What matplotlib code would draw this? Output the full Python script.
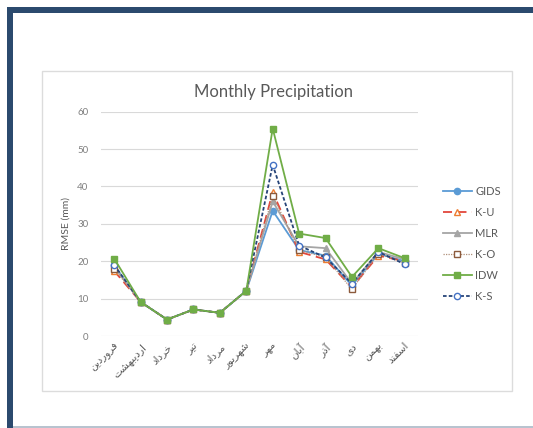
import matplotlib
matplotlib.use('Agg')
import matplotlib.pyplot as plt
from matplotlib.patches import Rectangle

plt.rcParams['font.family'] = ['Lato', 'DejaVu Sans']

# Data
months = ['فروردین', 'اردیبهشت', 'خرداد', 'تیر', 'مرداد', 'شهریور',
          'مهر', 'آبان', 'آذر', 'دی', 'بهمن', 'اسفند']
gids = [18.9, 9.1, 4.4, 7.1, 6.2, 12.1, 33.5, 23.0, 21.5, 13.5, 22.0, 20.0]
k_u = [17.4, 9.1, 4.4, 7.1, 6.2, 12.1, 38.5, 22.5, 20.5, 13.0, 21.5, 20.0]
mlr = [18.5, 9.1, 4.4, 7.1, 6.2, 12.1, 36.0, 24.0, 23.5, 14.0, 22.5, 20.5]
k_o = [18.0, 9.1, 4.4, 7.1, 6.2, 12.1, 37.5, 23.0, 21.0, 12.5, 22.0, 19.5]
idw = [20.7, 9.1, 4.4, 7.1, 6.2, 12.1, 55.5, 27.4, 26.2, 15.8, 23.5, 20.8]
k_s = [19.0, 9.1, 4.4, 7.1, 6.2, 12.1, 45.8, 24.2, 21.0, 14.0, 22.5, 19.2]
yticks = [0, 10, 20, 30, 40, 50, 60]

# matplotlib does no Arabic shaping, so pick contextual forms by hand
FORMS = {  # isolated, final, initial, medial
    'ا': ('\uFE8D', '\uFE8E', None, None),
    'آ': ('\uFE81', '\uFE82', None, None),
    'د': ('\uFEA9', '\uFEAA', None, None),
    'ذ': ('\uFEAB', '\uFEAC', None, None),
    'ر': ('\uFEAD', '\uFEAE', None, None),
    'و': ('\uFEED', '\uFEEE', None, None),
    'ب': ('\uFE8F', '\uFE90', '\uFE91', '\uFE92'),
    'ت': ('\uFE95', '\uFE96', '\uFE97', '\uFE98'),
    'خ': ('\uFEA5', '\uFEA6', '\uFEA7', '\uFEA8'),
    'س': ('\uFEB1', '\uFEB2', '\uFEB3', '\uFEB4'),
    'ش': ('\uFEB5', '\uFEB6', '\uFEB7', '\uFEB8'),
    'ف': ('\uFED1', '\uFED2', '\uFED3', '\uFED4'),
    'م': ('\uFEE1', '\uFEE2', '\uFEE3', '\uFEE4'),
    'ن': ('\uFEE5', '\uFEE6', '\uFEE7', '\uFEE8'),
    'ه': ('\uFEE9', '\uFEEA', '\uFEEB', '\uFEEC'),
    'ی': ('\uFBFC', '\uFBFD', '\uFBFE', '\uFBFF'),
}


def shape(word):
    out = []
    for i, c in enumerate(word):
        f = FORMS[c]
        prev = i > 0 and FORMS[word[i - 1]][2] is not None
        nxt = i < len(word) - 1 and f[2] is not None
        if prev and nxt:
            out.append(f[3])
        elif prev:
            out.append(f[1])
        elif nxt:
            out.append(f[2])
        else:
            out.append(f[0])
    return ''.join(reversed(out))


fig = plt.figure(figsize=(5.33, 4.28), dpi=100)
W, H = 533, 428


def px(x, y, w, h):
    return (x / W, 1 - (y + h) / H, w / W, h / H)


# outer frame
for r, c in [((7, 7, 526, 6), '#2b4a6e'), ((7, 7, 6, 421), '#2b4a6e'),
             ((13, 426, 520, 2), '#b8c3cf')]:
    x0, y0, w0, h0 = px(*r)
    fig.add_artist(Rectangle((x0, y0), w0, h0, transform=fig.transFigure,
                             facecolor=c, edgecolor='none'))
# chart box
x0, y0, w0, h0 = px(41.5, 71, 470, 320)
fig.add_artist(Rectangle((x0, y0), w0, h0, transform=fig.transFigure,
                         facecolor='none', edgecolor='#dcdcdc', lw=1))

ax = fig.add_axes(px(101, 111.7, 317, 224.3))
x = range(len(months))
ax.plot(x, gids, color='#5b9bd5', lw=1.3, marker='o', ms=4.5, label='GIDS')
ax.plot(x, k_u, color='#e2473b', lw=1.3, ls=(0, (5, 3)), marker='^', ms=5,
        mfc='white', mec='#ed7d31', label='K-U')
ax.plot(x, mlr, color='#a5a5a5', lw=1.3, marker='^', ms=4.5, label='MLR')
ax.plot(x, k_o, color='#b0907a', lw=0.9, ls=(0, (1, 1)), marker='s', ms=4.5,
        mfc='white', mec='#8c5a3c', label='K-O')
ax.plot(x, idw, color='#70ad47', lw=1.3, marker='s', ms=4.5, label='IDW',
        zorder=3)
ax.plot(x, k_s, color='#264478', lw=1.3, ls=(0, (2, 1.2)), marker='o', ms=4.5,
        mfc='white', mec='#4472c4', label='K-S', zorder=2.5)

ax.set_xlim(-0.5, len(months) - 0.5)
ax.set_ylim(0, 60)
ax.set_yticks(yticks)
ax.set_xticks(list(x))
ax.set_xticklabels([shape(m) for m in months], rotation=45, ha='right',
                   va='top', rotation_mode='anchor', fontsize=7.5,
                   color='#595959')
ax.tick_params(axis='y', length=0, pad=9, labelsize=7, labelcolor='#7f7f7f')
ax.tick_params(axis='x', length=0, pad=4)
ax.grid(axis='y', color='#d9d9d9', lw=0.8)
ax.set_axisbelow(True)
for s in ax.spines.values():
    s.set_visible(False)
ax.set_ylabel('RMSE (mm)', fontsize=7.5, color='#595959')
ax.yaxis.set_label_coords(-0.095, 0.5)

fig.text(273 / W, 1 - 92 / H, 'Monthly Precipitation', ha='center',
         va='center', fontsize=12, color='#595959')

ax.legend(loc='upper left', bbox_to_anchor=(433 / W, 1 - 176 / H),
          bbox_transform=fig.transFigure, frameon=False, fontsize=8,
          labelcolor='#595959', handlelength=2.6, handletextpad=0.3,
          labelspacing=0.9)

fig.savefig('out.png', dpi=100)
